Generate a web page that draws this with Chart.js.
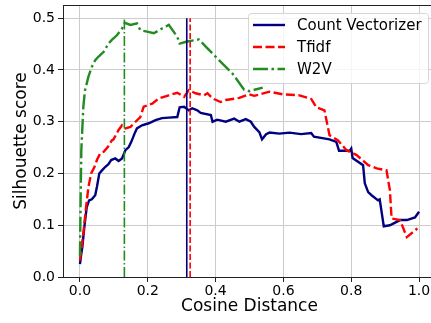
<!DOCTYPE html>
<html><head><meta charset="utf-8">
<script src="https://cdn.jsdelivr.net/npm/chart.js@4/dist/chart.umd.min.js"></script>
<style>
html,body{margin:0;padding:0;background:#fff;overflow:hidden}
#wrap{width:431px;height:323px;overflow:hidden;position:relative;background:#fff}
canvas{display:block}
</style></head><body>
<div id="wrap"><canvas id="c" width="436" height="323" style="width:436px;height:323px"></canvas></div>
<script>
// ---- data ----
const seriesNames = ['Count Vectorizer', 'Tfidf', 'W2V'];

const cvX = [0.000,0.004,0.007,0.013,0.020,0.027,0.035,0.040,0.045,0.050,0.057,0.065,0.075,0.084,0.092,0.104,0.114,0.124,0.134,0.144,0.152,0.161,0.168,0.183,0.203,0.223,0.242,0.262,0.287,0.294,0.307,0.321,0.331,0.346,0.356,0.386,0.391,0.405,0.430,0.455,0.470,0.489,0.504,0.514,0.529,0.537,0.549,0.559,0.588,0.618,0.652,0.682,0.690,0.736,0.756,0.764,0.796,0.800,0.804,0.835,0.840,0.850,0.860,0.879,0.884,0.896,0.914,0.944,0.964,0.988,1.000];
const cvY = [0.025,0.045,0.058,0.097,0.135,0.148,0.150,0.154,0.158,0.174,0.200,0.206,0.213,0.218,0.226,0.229,0.224,0.229,0.245,0.251,0.262,0.277,0.287,0.293,0.297,0.303,0.307,0.308,0.309,0.328,0.329,0.322,0.326,0.322,0.317,0.313,0.300,0.304,0.300,0.306,0.300,0.305,0.300,0.290,0.280,0.266,0.276,0.279,0.277,0.279,0.276,0.278,0.271,0.266,0.261,0.244,0.244,0.248,0.230,0.216,0.181,0.164,0.158,0.148,0.150,0.098,0.100,0.110,0.110,0.115,0.126];

const tfX = [0.000,0.010,0.017,0.025,0.033,0.043,0.050,0.060,0.070,0.082,0.094,0.099,0.114,0.124,0.134,0.149,0.164,0.178,0.188,0.213,0.233,0.262,0.287,0.307,0.321,0.341,0.366,0.376,0.391,0.415,0.430,0.470,0.499,0.514,0.559,0.598,0.647,0.682,0.697,0.721,0.736,0.761,0.786,0.815,0.845,0.850,0.875,0.904,0.914,0.919,0.944,0.964,0.988,0.995];
const tfY = [0.032,0.084,0.129,0.174,0.200,0.213,0.226,0.239,0.242,0.251,0.264,0.266,0.284,0.293,0.287,0.290,0.300,0.309,0.329,0.335,0.345,0.351,0.356,0.348,0.361,0.355,0.351,0.355,0.345,0.338,0.342,0.346,0.353,0.350,0.358,0.353,0.351,0.344,0.328,0.322,0.274,0.264,0.245,0.236,0.219,0.216,0.210,0.206,0.168,0.113,0.110,0.077,0.090,0.094];

const w2vX = [0.000,0.002,0.004,0.010,0.015,0.025,0.035,0.045,0.055,0.070,0.084,0.094,0.109,0.124,0.132,0.149,0.168,0.178,0.198,0.218,0.242,0.262,0.287,0.294,0.316,0.351,0.371,0.410,0.450,0.484,0.499,0.539];
const w2vY = [0.040,0.150,0.245,0.329,0.361,0.387,0.406,0.419,0.426,0.435,0.451,0.458,0.467,0.480,0.491,0.487,0.490,0.477,0.474,0.471,0.480,0.487,0.464,0.451,0.455,0.459,0.445,0.419,0.393,0.362,0.359,0.366];

// best-distance markers (vertical lines), one per series
const bestX = [0.315, 0.325, 0.131];
const bestBottom = 0.0;
const bestTop = 0.5;

const xTicks = [0.0, 0.2, 0.4, 0.6, 0.8, 1.0];
const yTicks = [0.0, 0.1, 0.2, 0.3, 0.4, 0.5];
const xTitle = 'Cosine Distance';
const yTitle = 'Silhouette score';

// ---- styles ----
const colors = ['#000080', '#ff0000', '#228b22'];
const curveDash = [[], [9, 3.5], [15, 3.5, 2.5, 3.5]];
const vlineDash = [[], [6, 2.5], [10, 2.5, 1.5, 2.5]];

Chart.defaults.font.family = "'DejaVu Sans', sans-serif";
Chart.defaults.color = '#000';

const pts = (xs, ys) => xs.map((x, i) => ({x: x, y: ys[i]}));
const seriesXY = [[cvX, cvY], [tfX, tfY], [w2vX, w2vY]];

const datasets = [];
seriesXY.forEach((s, i) => {
  datasets.push({
    label: seriesNames[i], data: pts(s[0], s[1]), borderColor: colors[i],
    borderDash: curveDash[i], borderWidth: 2.4, pointRadius: 0, tension: 0,
    fill: false, order: 10 - i, inLegend: true
  });
});
bestX.forEach((bx, i) => {
  datasets.push({
    label: seriesNames[i] + ' best', data: [{x: bx, y: bestBottom}, {x: bx, y: bestTop}],
    borderColor: colors[i], borderDash: vlineDash[i], borderWidth: 1.6,
    pointRadius: 0, tension: 0, fill: false, order: 5 - i, inLegend: false
  });
});

const frame = {
  id: 'frame',
  afterDraw(chart) {
    const {ctx, chartArea: a} = chart;
    ctx.save();
    ctx.strokeStyle = '#222'; ctx.lineWidth = 1;
    ctx.beginPath();
    ctx.moveTo(a.left, Math.round(a.top) + 0.5);
    ctx.lineTo(a.right, Math.round(a.top) + 0.5);
    ctx.stroke();
    // legend
    const items = chart.data.datasets.filter(d => d.inLegend);
    const bw = 180, bh = 70;
    const bx = a.right - 8 - bw, by = a.top + 8;
    ctx.beginPath();
    ctx.roundRect(bx + 0.5, by + 0.5, bw, bh, 3);
    ctx.fillStyle = 'rgba(255,255,255,0.8)';
    ctx.fill();
    ctx.strokeStyle = '#d6d6d6';
    ctx.stroke();
    ctx.font = "15px 'DejaVu Sans'";
    ctx.textBaseline = 'middle';
    ctx.textAlign = 'left';
    items.forEach((d, i) => {
      const y = by + 12 + i * 22;
      ctx.beginPath();
      ctx.setLineDash(d.borderDash || []);
      ctx.strokeStyle = d.borderColor;
      ctx.lineWidth = 2.4;
      ctx.moveTo(bx + 5, y);
      ctx.lineTo(bx + 37, y);
      ctx.stroke();
      ctx.setLineDash([]);
      ctx.fillStyle = '#000';
      ctx.fillText(d.label, bx + 49, y + 1);
    });
    ctx.restore();
  }
};

new Chart(document.getElementById('c'), {
  type: 'line',
  data: {datasets: datasets},
  options: {
    responsive: false, animation: false,
    layout: {padding: {top: 5, right: 0, bottom: 0, left: 0}},
    plugins: {legend: {display: false}, tooltip: {enabled: false}},
    scales: {
      x: {
        type: 'linear', min: -0.05, max: 1.05,
        afterBuildTicks: s => { s.ticks = xTicks.map(v => ({value: v})); },
        afterFit: s => { s.height = 46; s.paddingLeft = 0; s.paddingRight = 0; },
        ticks: {font: {size: 14}, color: '#000', padding: 1, maxRotation: 0,
                callback: v => Number(v).toFixed(1)},
        grid: {color: '#cccccc', lineWidth: 1, tickColor: '#222', tickLength: 5},
        border: {color: '#222', width: 1},
        title: {display: true, text: xTitle, font: {size: 17}, color: '#000', padding: {top: 0, bottom: 6}}
      },
      y: {
        type: 'linear', min: 0, max: 0.5255,
        afterBuildTicks: s => { s.ticks = yTicks.map(v => ({value: v})); },
        afterFit: s => { s.width = 63; s.paddingTop = 0; s.paddingBottom = 0; },
        ticks: {font: {size: 14}, color: '#000', padding: 3,
                callback: v => Number(v).toFixed(1)},
        grid: {color: '#cccccc', lineWidth: 1, tickColor: '#222', tickLength: 5},
        border: {color: '#222', width: 1},
        title: {display: true, text: yTitle, font: {size: 17}, color: '#000', padding: {top: 11, bottom: 0}}
      }
    }
  },
  plugins: [frame]
});
</script>
</body></html>
